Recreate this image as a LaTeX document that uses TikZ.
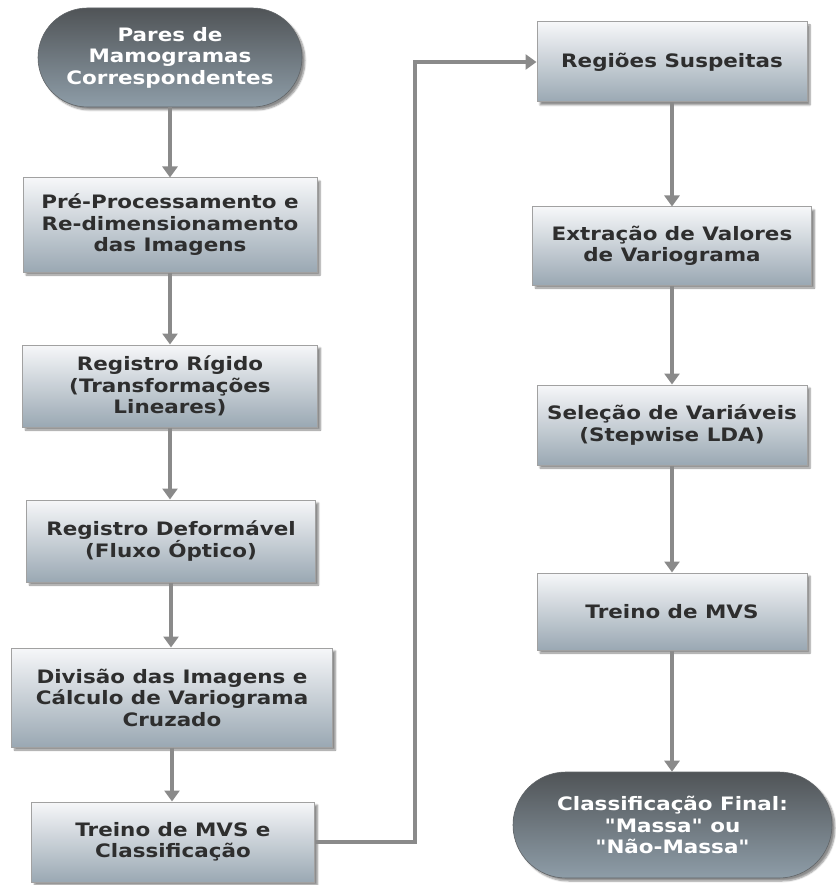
\documentclass[tikz,border=0pt]{standalone}
\usepackage{fontspec}
\newfontfamily\boxfont{DejaVu Sans}[FakeStretch=1.16]
\usetikzlibrary{arrows.meta,shapes.misc,shadows.blur}
\definecolor{boxtop}{HTML}{F6F7F9}
\definecolor{boxbot}{HTML}{9AA8B3}
\definecolor{termtop}{HTML}{505457}
\definecolor{termbot}{HTML}{8E9DA8}
\definecolor{edge}{HTML}{8A8A8A}
\definecolor{txt}{HTML}{2E2E2E}
\begin{document}
\begin{tikzpicture}[x=1pt,y=-1pt,
  every node/.style={font=\boxfont\bfseries\fontsize{18.5}{21.5}\selectfont, align=center, inner sep=0pt},
  procbox/.style={rectangle, draw=edge!80, line width=1pt, top color=boxtop, bottom color=boxbot,
    text=txt, blur shadow={shadow xshift=3pt, shadow yshift=-3pt, shadow blur steps=6, shadow opacity=45}},
  termbox/.style={rounded rectangle, rounded rectangle arc length=180, draw=termtop!90, line width=0.6pt,
    top color=termtop, bottom color=termbot, text=white,
    blur shadow={shadow xshift=3pt, shadow yshift=-3pt, shadow blur steps=6, shadow opacity=45}},
  flow/.style={draw=edge, line width=3.4pt, -{Triangle[length=11pt,width=15pt]}}
]
\useasboundingbox (0,0) rectangle (835,885);
% left column
\node[termbox, minimum width=264pt, minimum height=99pt] (t1) at (170,57.5) {Pares de\\Mamogramas\\Correspondentes};
\node[procbox, minimum width=294pt, minimum height=94pt] (b2) at (170,225) {Pré-Processamento e\\Re-dimensionamento\\das Imagens};
\node[procbox, minimum width=295pt, minimum height=82pt] (b3) at (170,386) {Registro Rígido\\(Transformações\\Lineares)};
\node[procbox, minimum width=289pt, minimum height=82pt] (b4) at (171,541) {Registro Deformável\\(Fluxo Óptico)};
\node[procbox, minimum width=321pt, minimum height=99pt] (b5) at (172,697.5) {Divisão das Imagens e\\Cálculo de Variograma\\Cruzado};
\node[procbox, minimum width=283pt, minimum height=80pt] (b6) at (173,842) {Treino de MVS e\\Classificação};
% right column
\node[procbox, minimum width=270pt, minimum height=80pt] (r1) at (672,62) {Regiões Suspeitas};
\node[procbox, minimum width=279pt, minimum height=78pt] (r2) at (672,246) {Extração de Valores\\de Variograma};
\node[procbox, minimum width=270pt, minimum height=80pt] (r3) at (672,425) {Seleção de Variáveis\\(Stepwise LDA)};
\node[procbox, minimum width=270pt, minimum height=77pt] (r4) at (672,611.5) {Treino de MVS};
\node[termbox, minimum width=319pt, minimum height=106pt] (t2) at (672.5,825) {Classificação Final:\\"Massa" ou\\"Não-Massa"};
\coordinate (c1) at (415,842);
\coordinate (c2) at (415,62);
% connectors
\draw[flow] (t1.south) -- (t1.south |- b2.north);
\draw[flow] (b2.south) -- (b2.south |- b3.north);
\draw[flow] (b3.south) -- (b3.south |- b4.north);
\draw[flow] (b4.south) -- (b4.south |- b5.north);
\draw[flow] (b5.south) -- (b5.south |- b6.north);
\draw[flow] (b6.east) -- (c1) -- (c2) -- (r1.west);
\draw[flow] (r1.south) -- (r2.north);
\draw[flow] (r2.south) -- (r3.north);
\draw[flow] (r3.south) -- (r4.north);
\draw[flow] (r4.south) -- (r4.south |- t2.north);
\end{tikzpicture}
\end{document}
